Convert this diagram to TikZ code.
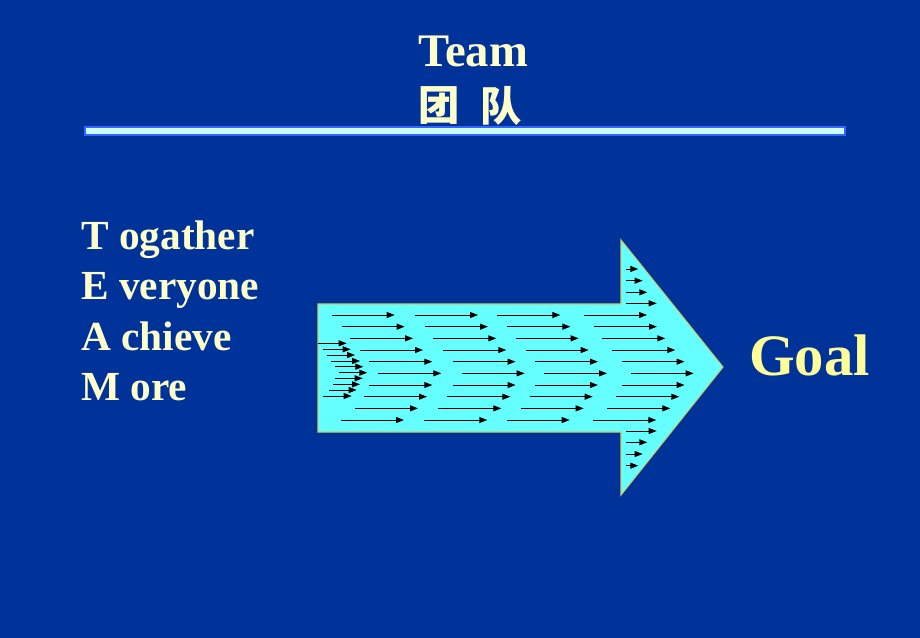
\documentclass[tikz,border=0pt]{standalone}
\usepackage{fontspec}
\setmainfont{Liberation Serif}
\newfontfamily\cjk{Noto Sans CJK SC}
\usetikzlibrary{arrows.meta}
\definecolor{bgblue}{HTML}{003399}
\definecolor{cream}{HTML}{FFFFCC}
\definecolor{goalyel}{HTML}{FFFF99}
\definecolor{arrowfill}{HTML}{66FFFF}
\definecolor{arrowedge}{HTML}{CCCC66}
\definecolor{barfill}{HTML}{CCFFFF}
\definecolor{baredge}{HTML}{3366FF}
\tikzset{
  flow/.style={draw=black, line width=0.75pt, -{Triangle[length=6pt,width=4.5pt]}},
  title/.style={text=cream, font=\bfseries, inner sep=0pt},
  acro/.style={text=cream, font=\bfseries\fontsize{31}{36}\selectfont, inner sep=0pt, anchor=base west}
}
\begin{document}
\begin{tikzpicture}[x=0.75pt,y=-0.75pt]
\useasboundingbox (0,0) rectangle (920,638);
\fill[bgblue] (0,0) rectangle (920,638);
% title
\node[title, anchor=base, font=\bfseries\fontsize{35}{40}\selectfont] (team) at (473,66.7) {Team};
\node[title, font=\cjk\bfseries\fontsize{31}{36}\selectfont] (tuan) at (439,106) {团};
\node[title, font=\cjk\bfseries\fontsize{31}{36}\selectfont] (dui) at (501,106) {队};
% bar
\draw[baredge, line width=2pt, fill=barfill] (85,127) rectangle (845,135);
% acronym
\node[acro] (t) at (81,249.3) {T ogather};
\node[acro] (e) at (81,299.7) {E veryone};
\node[acro] (a) at (81,350) {A chieve};
\node[acro] (m) at (81,400.3) {M ore};
% big arrow
\draw[arrowedge, line width=0.8pt, fill=arrowfill]
  (318,304) -- (621,304) -- (621,240) -- (723,367) -- (621,495) -- (621,432) -- (318,432) -- cycle;
% flow arrows
\foreach \i/\s in {0/331.7,1/341.7,2/350,3/360,4/369.3,5/378.3,6/369.3,7/364,8/355,9/341}{
  \foreach \c in {0,83.3,165.7,252.3}{
    \draw[flow] (\s+\c,315+11.67*\i) -- ++(63,0);
  }
}
\foreach \y/\a/\b in {343.3/318/346.7,349.3/322.7/350.7,355/326.7/355,361/330.7/360,366.7/335/363.3,372.7/339.3/367.3,378.3/335/362.7,384.3/333.3/360,390/329.3/356.7,396/323.3/351.7}{
  \draw[flow] (\a,\y) -- (\b,\y);
}
\foreach \y/\b in {269/638.3,280.7/642.7,292.3/647.3,303.3/656.7,431/656.7,442.3/647.3,454/642.7,465.7/638.3}{
  \draw[flow] (626,\y) -- (\b,\y);
}
% goal
\node[text=goalyel, font=\bfseries\fontsize{44}{50}\selectfont, inner sep=0pt, anchor=base west] (goal) at (749,375) {Goal};
\end{tikzpicture}
\end{document}
